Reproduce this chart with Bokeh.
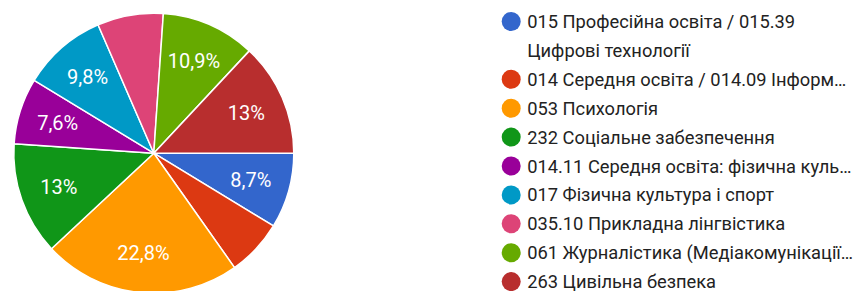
import math
from bokeh.plotting import figure
from bokeh.models import Range1d, ColumnDataSource
from bokeh.core.properties import value
from bokeh.embed import file_html
from bokeh.resources import INLINE

# ---- data ----
labels = [
    "015 Професійна освіта / 015.39\nЦифрові технології",
    "014 Середня освіта / 014.09 Інформ…",
    "053 Психологія",
    "232 Соціальне забезпечення",
    "014.11 Середня освіта: фізична куль…",
    "017 Фізична культура і спорт",
    "035.10 Прикладна лінгвістика",
    "061 Журналістика (Медіакомунікації…",
    "263 Цивільна безпека",
]
counts = [8, 6, 21, 12, 7, 9, 7, 10, 12]
colors = ["#3366cc", "#dc3912", "#ff9900", "#109618", "#990099",
          "#0099c6", "#dd4477", "#66aa00", "#b82e2e"]
show_label = [True, False, True, True, True, True, False, True, True]

W, H = 864, 291
FONT = "Roboto"

p = figure(width=W, height=H, output_backend="svg", toolbar_location=None,
           x_range=Range1d(0, W), y_range=Range1d(0, H), min_border=0,
           background_fill_color="white", border_fill_color="white")
p.axis.visible = False
p.grid.visible = False
p.outline_line_color = None

def sy(y):  # screen y -> data y
    return H - y

cx, cy, r = 153.3, sy(152.7), 140

total = sum(counts)
starts, ends, lx, ly, txt = [], [], [], [], []
acc = 0.0
for c, show in zip(counts, show_label):
    a0 = acc / total * 2 * math.pi
    acc += c
    a1 = acc / total * 2 * math.pi
    # clockwise from 3 o'clock -> negative math angles
    starts.append(-a1)
    ends.append(-a0)
    mid = -(a0 + a1) / 2
    pct = c / total * 100
    s = f"{pct:.1f}".rstrip("0").rstrip(".").replace(".", ",") + "%"
    if show:
        lx.append(cx + 0.72 * r * math.cos(mid))
        ly.append(cy + 0.72 * r * math.sin(mid))
        txt.append(s)

src = ColumnDataSource(dict(start=starts, end=ends, color=colors))
p.wedge(x=cx, y=cy, radius=r, start_angle="start", end_angle="end",
        direction="anticlock", fill_color="color", line_color="white",
        line_width=1.5, source=src)

p.text(x=lx, y=ly, text=txt, text_color="white", text_font=value(FONT),
       text_font_size="20px", text_align="center", text_baseline="middle")

# legend
row_y = 21.0
step = 28.9
dot_x, text_x = 510.7, 526.7
dys, tys, tt = [], [], []
y = row_y
for lab in labels:
    lines = lab.split("\n")
    dys.append(sy(y))
    for ln in lines:
        tys.append(sy(y))
        tt.append(ln)
        y += step

p.scatter(x=[dot_x] * len(labels), y=dys, size=19, fill_color=colors,
          line_color=None)
p.text(x=[text_x] * len(tt), y=tys, text=tt, text_color="#222222",
       text_font=value(FONT), text_font_size="18.3px", text_align="left",
       text_baseline="middle")

open("out.html", "w").write(file_html(p, INLINE))
